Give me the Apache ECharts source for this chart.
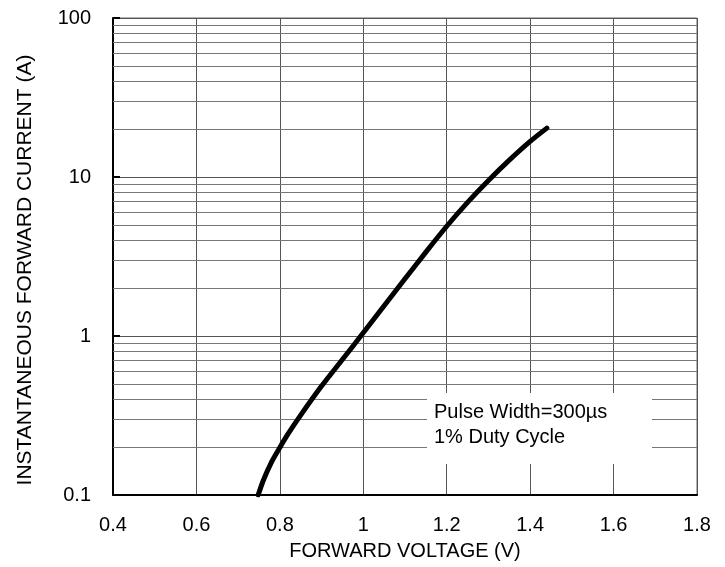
<!DOCTYPE html>
<html>
<head>
<meta charset="utf-8">
<script src="https://cdn.jsdelivr.net/npm/echarts@6/dist/echarts.min.js"></script>
<style>
html,body{margin:0;padding:0;background:#fff;}
#chart{width:725px;height:567px;}
</style>
</head>
<body>
<div id="chart"></div>
<script>
// Forward voltage (V) and instantaneous forward current (A)
var forwardVoltage = [0.748, 0.76, 0.78, 0.8, 0.82, 0.85, 0.9, 0.95, 1.0, 1.05, 1.1, 1.15, 1.2, 1.25, 1.3, 1.35, 1.4, 1.44];
var forwardCurrent = [0.1, 0.123, 0.161, 0.199, 0.243, 0.318, 0.484, 0.711, 1.047, 1.55, 2.29, 3.37, 4.9, 6.92, 9.5, 12.76, 16.75, 20.3];
// Minor log grid values
var minorGridY = [0.2,0.3,0.4,0.5,0.6,0.7,0.8,0.9,2,3,4,5,6,7,8,9,20,30,40,50,60,70,80,90];
var noteLines = ['Pulse Width=300\u00b5s', '1% Duty Cycle'];
var xTitle = 'FORWARD VOLTAGE (V)';
var yTitle = 'INSTANTANEOUS FORWARD CURRENT (A)';

var FONT = '"Liberation Sans", Arial, sans-serif';
var chart = echarts.init(document.getElementById('chart'), null, {renderer: 'canvas'});

var points = forwardVoltage.map(function (v, i) { return [v, forwardCurrent[i]]; });

chart.setOption({
  animation: false,
  backgroundColor: '#fff',
  grid: {left: 113, right: 28, top: 18, bottom: 72, show: true, borderColor: '#666', borderWidth: 1},
  xAxis: {
    type: 'value', min: 0.4, max: 1.8, interval: 0.2,
    name: xTitle, nameLocation: 'middle', nameGap: 46,
    nameTextStyle: {fontFamily: FONT, fontSize: 20, color: '#000'},
    axisLine: {show: true, lineStyle: {color: '#000', width: 2}},
    axisTick: {show: false},
    axisLabel: {fontFamily: FONT, fontSize: 20, color: '#000', margin: 20},
    splitLine: {show: true, lineStyle: {color: '#555', width: 1}}
  },
  yAxis: {
    type: 'log', logBase: 10, min: 0.1, max: 100,
    axisLine: {show: true, lineStyle: {color: '#000', width: 2}},
    axisTick: {show: true, inside: true, length: 7, lineStyle: {color: '#000', width: 2}},
    axisLabel: {fontFamily: FONT, fontSize: 20, color: '#000', margin: 22,
      formatter: function (v) { return String(+v.toPrecision(6)); }},
    splitLine: {show: true, lineStyle: {color: '#555', width: 1}},
    minorTick: {show: false},
    minorSplitLine: {show: false}
  },
  graphic: [
    {type: 'text', x: 25, y: 270, rotation: Math.PI / 2, z: 100,
     style: {text: yTitle, fontFamily: FONT, fontSize: 21, fill: '#000', textAlign: 'center', textVerticalAlign: 'middle'}},
    {type: 'rect', z: 100, shape: {x: 427, y: 393, width: 225, height: 71}, style: {fill: '#fff'}},
    {type: 'text', z: 101, x: 434, y: 412,
     style: {text: noteLines[0], fontFamily: FONT, fontSize: 20, fill: '#000', textAlign: 'left', textVerticalAlign: 'middle'}},
    {type: 'text', z: 101, x: 434, y: 437,
     style: {text: noteLines[1], fontFamily: FONT, fontSize: 20, fill: '#000', textAlign: 'left', textVerticalAlign: 'middle'}}
  ],
  series: [
    {
      type: 'line', data: points, smooth: 0.2, symbol: 'none', z: 5,
      lineStyle: {color: '#000', width: 5, cap: 'round', join: 'round'},
      markLine: {
        silent: true, symbol: 'none', label: {show: false}, z: 1,
        lineStyle: {color: '#777', width: 1, type: 'solid'},
        data: minorGridY.map(function (v) { return {yAxis: v}; })
      }
    }
  ]
});
</script>
</body>
</html>
